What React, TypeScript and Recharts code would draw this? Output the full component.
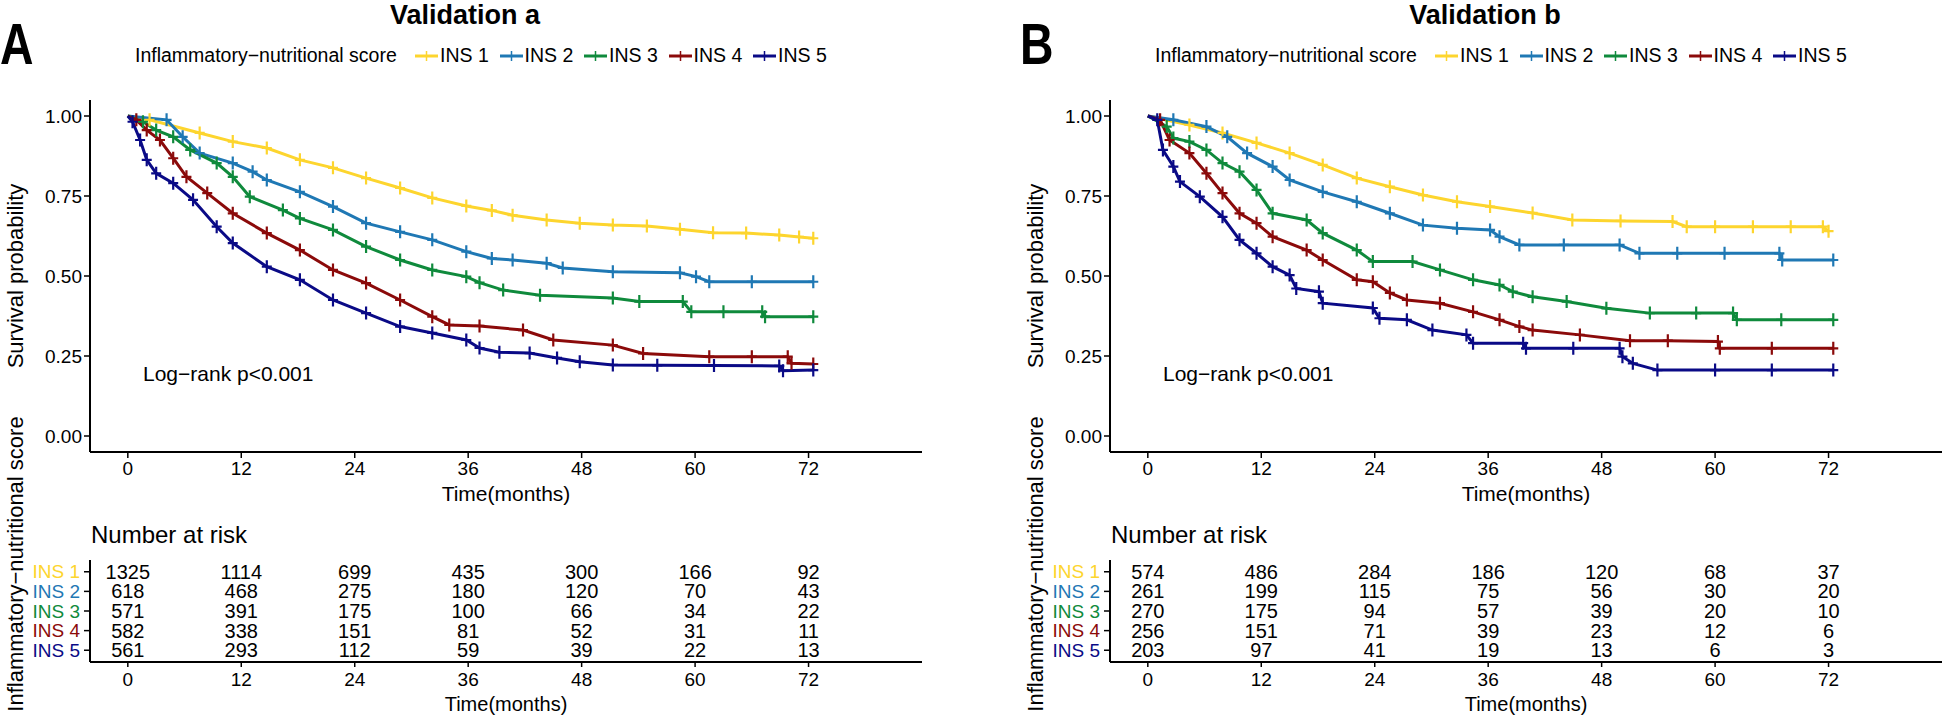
import React from 'react';
import { LineChart, Line, XAxis, YAxis, ScatterChart, Scatter } from 'recharts';

const FONT = '"Liberation Sans", Arial, Helvetica, sans-serif';

const groups = ['INS 1', 'INS 2', 'INS 3', 'INS 4', 'INS 5'];
const groupColors = ['#FDD52E', '#1F78B4', '#0F8A3C', '#8B0A0A', '#0A0A86'];
const timeTicks = [0, 12, 24, 36, 48, 60, 72];
const survTicks = [0, 0.25, 0.5, 0.75, 1];

// survival curves, [month, probability]
const kmA1 = [[0, 1], [2.3, 0.988], [7.6, 0.947], [11.1, 0.92], [14.7, 0.9], [18.2, 0.863], [21.7, 0.838], [25.2, 0.806], [28.8, 0.775], [32.2, 0.744], [35.8, 0.719], [38.5, 0.705], [40.7, 0.69], [44.3, 0.675], [47.8, 0.665], [51.3, 0.659], [54.9, 0.656], [58.4, 0.646], [61.9, 0.635], [65.4, 0.634], [68.9, 0.628], [71.0, 0.622], [72.5, 0.618]];
const kmA2 = [[0, 1], [4.1, 0.988], [5.8, 0.935], [7.6, 0.884], [11.1, 0.853], [13.2, 0.826], [14.7, 0.8], [18.2, 0.763], [21.7, 0.717], [25.2, 0.665], [28.8, 0.638], [32.2, 0.613], [35.8, 0.576], [38.5, 0.555], [40.7, 0.55], [44.3, 0.54], [46, 0.525], [51.3, 0.513], [58.4, 0.51], [60.1, 0.498], [61.5, 0.482], [66, 0.482], [72.5, 0.482]];
const kmA3 = [[0, 1], [1.6, 0.982], [3, 0.956], [4.8, 0.935], [6.6, 0.894], [9.4, 0.853], [11.1, 0.81], [12.9, 0.748], [16.4, 0.706], [18.2, 0.68], [21.7, 0.644], [25.2, 0.592], [28.8, 0.55], [32.2, 0.519], [35.8, 0.498], [37.2, 0.479], [39.7, 0.456], [43.6, 0.44], [51.3, 0.431], [54.1, 0.42], [58.7, 0.42], [59.6, 0.388], [63, 0.388], [67.1, 0.388], [67.4, 0.373], [72.5, 0.373]];
const kmA4 = [[0, 1], [0.9, 0.988], [2, 0.956], [3.4, 0.925], [4.8, 0.868], [6.2, 0.81], [8.4, 0.759], [11.1, 0.696], [14.7, 0.634], [18.2, 0.581], [21.7, 0.519], [25.2, 0.478], [28.8, 0.425], [32.2, 0.373], [34, 0.347], [37.2, 0.344], [41.8, 0.331], [45, 0.3], [51.3, 0.284], [54.5, 0.258], [61.5, 0.248], [66, 0.248], [69.8, 0.248], [70.2, 0.227], [72.5, 0.225]];
const kmA5 = [[0, 1], [0.5, 0.982], [1.3, 0.925], [2, 0.863], [3, 0.821], [4.8, 0.79], [6.9, 0.738], [9.4, 0.654], [11.1, 0.603], [14.7, 0.529], [18.2, 0.488], [21.7, 0.425], [25.2, 0.384], [28.8, 0.342], [32.2, 0.322], [35.8, 0.3], [37.2, 0.275], [39.3, 0.262], [42.5, 0.259], [45.4, 0.244], [47.8, 0.232], [51.3, 0.222], [56, 0.221], [62, 0.22], [68.9, 0.219], [69.3, 0.204], [72.5, 0.206]];

const kmB1 = [[0, 1], [4.4, 0.972], [7.9, 0.947], [11.5, 0.916], [15, 0.884], [18.5, 0.847], [22.1, 0.806], [25.6, 0.779], [29.1, 0.753], [32.7, 0.732], [36.2, 0.717], [40.7, 0.697], [44.9, 0.675], [50, 0.672], [55.5, 0.67], [57, 0.654], [60, 0.654], [64, 0.654], [68, 0.654], [71.4, 0.654], [72, 0.64]];
const kmB2 = [[0, 1], [2.7, 0.988], [6.2, 0.967], [8.4, 0.935], [10.5, 0.884], [13.2, 0.842], [15, 0.8], [18.5, 0.763], [22.1, 0.732], [25.6, 0.696], [29.1, 0.659], [32.7, 0.649], [36.2, 0.644], [37.2, 0.623], [39.3, 0.597], [44, 0.597], [49.9, 0.597], [52, 0.571], [56, 0.571], [61, 0.571], [66.8, 0.571], [67.1, 0.55], [72.5, 0.55]];
const kmB3 = [[0, 1], [2, 0.967], [2.7, 0.931], [4.4, 0.92], [6.2, 0.894], [7.9, 0.853], [9.7, 0.826], [11.5, 0.769], [13.2, 0.696], [16.8, 0.675], [18.5, 0.634], [22.1, 0.581], [23.8, 0.545], [28, 0.545], [30.9, 0.519], [34.4, 0.488], [37.2, 0.472], [38.6, 0.451], [40.7, 0.435], [44.3, 0.42], [48.5, 0.399], [53.1, 0.384], [58, 0.384], [61.9, 0.384], [62.3, 0.363], [67, 0.363], [72.5, 0.363]];
const kmB4 = [[0, 1], [1.3, 0.988], [2.3, 0.925], [4.4, 0.884], [6.2, 0.821], [7.9, 0.759], [9.7, 0.696], [11.5, 0.665], [13.2, 0.623], [16.8, 0.581], [18.5, 0.55], [22.1, 0.488], [23.8, 0.482], [25.6, 0.447], [27.4, 0.425], [30.9, 0.415], [34.4, 0.388], [37.2, 0.363], [39.3, 0.342], [40.7, 0.331], [45.7, 0.316], [51, 0.298], [55, 0.298], [60.3, 0.295], [60.5, 0.274], [66, 0.274], [72.5, 0.274]];
const kmB5 = [[0, 1], [1, 0.988], [1.6, 0.894], [2.7, 0.842], [3.4, 0.795], [5.5, 0.748], [7.9, 0.685], [9.7, 0.613], [11.5, 0.571], [13.2, 0.529], [15, 0.503], [15.7, 0.461], [18.1, 0.451], [18.5, 0.415], [23.8, 0.4], [24.5, 0.368], [27.4, 0.363], [30.1, 0.331], [33.7, 0.316], [34.4, 0.29], [39.7, 0.29], [40, 0.274], [45, 0.274], [49.9, 0.274], [50.2, 0.248], [51.3, 0.227], [53.9, 0.206], [60, 0.206], [66, 0.206], [72.5, 0.206]];

// number at risk, one row per group, columns = timeTicks
const riskA = [
  [1325, 1114, 699, 435, 300, 166, 92],
  [618, 468, 275, 180, 120, 70, 43],
  [571, 391, 175, 100, 66, 34, 22],
  [582, 338, 151, 81, 52, 31, 11],
  [561, 293, 112, 59, 39, 22, 13],
];
const riskB = [
  [574, 486, 284, 186, 120, 68, 37],
  [261, 199, 115, 75, 56, 30, 20],
  [270, 175, 94, 57, 39, 20, 10],
  [256, 151, 71, 39, 23, 12, 6],
  [203, 97, 41, 19, 13, 6, 3],
];

const toPoints = (km) => km.map(([t, s]) => ({ t, s }));

const crossDot = (color) => (props) => {
  const { cx, cy, index } = props;
  if (index === 0 || cx == null) return <g key={`d${index}`} />;
  return (
    <path key={`d${index}`} d={`M${cx - 5},${cy}h10M${cx},${cy - 6.5}v13`} stroke={color} strokeWidth={2.2} fill="none" />
  );
};

function Txt({ x, y, size, children, anchor = 'middle', weight = 400, color = '#000', rotate = false, sx = 1 }) {
  const tx = anchor === 'middle' ? '-50%' : anchor === 'end' ? '-100%' : '0';
  return (
    <div
      style={{
        position: 'absolute', left: x, top: y, fontSize: size, fontWeight: weight, color, fontFamily: FONT,
        lineHeight: 1, whiteSpace: 'nowrap', transformOrigin: anchor === 'start' ? 'left center' : 'center',
        transform: `translate(${tx},-50%)${rotate ? ' rotate(-90deg)' : ''}${sx !== 1 ? ` scaleX(${sx})` : ''}`,
      }}
    >
      {children}
    </div>
  );
}

const axisLine = { stroke: '#000', strokeWidth: 2 };
const tickLine = { stroke: '#000', strokeWidth: 1.5 };

function RiskTick({ x, y, payload }) {
  const i = payload.value - 1;
  return (
    <text x={x} y={y} textAnchor="end" dominantBaseline="central" fontSize={19} fontFamily={FONT} fill={groupColors[i]}>
      {groups[i]}
    </text>
  );
}

function Panel({ dx, letter, title, curves, risk }) {
  const riskData = [];
  risk.forEach((row, gi) => row.forEach((n, ti) => riskData.push({ x: timeTicks[ti], y: gi + 1, n })));
  return (
    <div style={{ position: 'absolute', left: dx, top: 0, width: 972, height: 720 }}>
      <Txt x={0} y={44} size={58} weight={700} anchor="start" sx={0.8}>{letter}</Txt>
      <Txt x={465} y={15} size={27} weight={700}>{title}</Txt>

      <Txt x={135} y={56} size={19.5} anchor="start">Inflammatory−nutritional score</Txt>
      {groups.map((g, i) => (
        <React.Fragment key={g}>
          <svg style={{ position: 'absolute', left: 415 + i * 84.5, top: 49 }} width={23} height={14}>
            <line x1={0} y1={7} x2={23} y2={7} stroke={groupColors[i]} strokeWidth={3} />
            <line x1={11.5} y1={2} x2={11.5} y2={12} stroke={groupColors[i]} strokeWidth={1.5} />
          </svg>
          <Txt x={440 + i * 84.5} y={56} size={19.5} anchor="start">{g}</Txt>
        </React.Fragment>
      ))}

      <LineChart width={972} height={500} margin={{ top: 100, right: 50, bottom: 18, left: 0 }} style={{ position: 'absolute', left: 0, top: 0 }}>
        <XAxis type="number" dataKey="t" domain={[-4, 84]} ticks={timeTicks} allowDataOverflow height={30}
          axisLine={axisLine} tickLine={tickLine} tickSize={6} tickMargin={4}
          tick={{ fill: '#000', fontSize: 19, fontFamily: FONT }} />
        <YAxis type="number" dataKey="s" domain={[-0.05, 1.05]} ticks={survTicks} allowDataOverflow width={90}
          axisLine={axisLine} tickLine={tickLine} tickSize={6} tickMargin={2}
          tickFormatter={(v) => v.toFixed(2)}
          tick={{ fill: '#000', fontSize: 19, fontFamily: FONT }} />
        {curves.map((km, i) => (
          <Line key={groups[i]} data={toPoints(km)} dataKey="s" type="linear" stroke={groupColors[i]}
            strokeWidth={3} dot={crossDot(groupColors[i])} activeDot={false} isAnimationActive={false} />
        ))}
      </LineChart>

      <Txt x={16} y={276} size={22} rotate>Survival probability</Txt>
      <Txt x={143} y={373} size={21} anchor="start">Log−rank p&lt;0.001</Txt>
      <Txt x={506} y={493} size={21}>Time(months)</Txt>

      <Txt x={91} y={535} size={24} anchor="start">Number at risk</Txt>
      <ScatterChart width={972} height={200} margin={{ top: 40, right: 50, bottom: 28, left: 0 }} style={{ position: 'absolute', left: 0, top: 520 }}>
        <XAxis type="number" dataKey="x" domain={[-4, 84]} ticks={timeTicks} allowDataOverflow height={30}
          axisLine={axisLine} tickLine={tickLine} tickSize={5} tickMargin={6}
          tick={{ fill: '#000', fontSize: 19, fontFamily: FONT }} />
        <YAxis type="number" dataKey="y" domain={[0.4, 5.6]} ticks={[1, 2, 3, 4, 5]} interval={0} reversed allowDataOverflow width={90}
          axisLine={axisLine} tickLine={tickLine} tickSize={6} tickMargin={4} tick={<RiskTick />} />
        <Scatter data={riskData} isAnimationActive={false}
          shape={(p) => (
            <text x={p.cx} y={p.cy} textAnchor="middle" dominantBaseline="central" fontSize={20} fontFamily={FONT} fill="#000">
              {p.payload.n}
            </text>
          )} />
      </ScatterChart>
      <Txt x={16} y={564} size={22} rotate>Inflammatory−nutritional score</Txt>
      <Txt x={506} y={704} size={20}>Time(months)</Txt>
    </div>
  );
}

export default function App() {
  return (
    <div style={{ position: 'absolute', left: 0, top: 0, width: 1944, height: 720, background: '#fff', fontFamily: FONT }}>
      <Panel dx={0} letter="A" title="Validation a" curves={[kmA1, kmA2, kmA3, kmA4, kmA5]} risk={riskA} />
      <Panel dx={1020} letter="B" title="Validation b" curves={[kmB1, kmB2, kmB3, kmB4, kmB5]} risk={riskB} />
    </div>
  );
}
